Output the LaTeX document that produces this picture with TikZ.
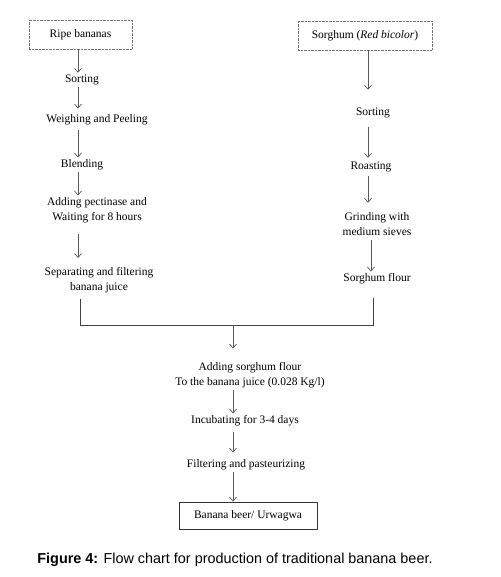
\documentclass[tikz,border=0pt]{standalone}
\usepackage{fontspec}
\setmainfont{Liberation Serif}
\newfontfamily\capfont{Liberation Sans}
\usetikzlibrary{arrows.meta}

\begin{document}
\begin{tikzpicture}[x=1pt,y=-1pt,>={Straight Barb[length=4pt,width=7pt]},
	stage/.style={align=center,inner sep=2pt,font=\fontsize{11.5}{15}\selectfont},
	srcbox/.style={stage,draw=black!55,densely dotted,minimum height=29pt,inner sep=0pt},
	flow/.style={->,draw=black!65,line width=0.7pt},
	mergeline/.style={draw=black!75,line width=0.9pt}]
	\useasboundingbox (0,0) rectangle (500,577);
	\coordinate (colL) at (78,0);
	\coordinate (colR) at (368,0);
	\coordinate (colM) at (233,0);
	% banana side
	\node [srcbox,minimum width=103pt] at (80.5,34.5) (RB) {Ripe bananas};
	\node [stage] at (82,80) (SortL) {Sorting};
	\node [stage] at (97,120) (Weigh) {Weighing and Peeling};
	\node [stage] at (82,165) (Blend) {Blending};
	\node [stage] at (97,210.5) (Pect) {Adding pectinase and\\Waiting for 8 hours};
	\node [stage] at (99,280) (Sep) {Separating and filtering\\banana juice};
	% sorghum side
	\node [srcbox,minimum width=134pt] at (365,35.5) (SG) {Sorghum (\textit{Red bicolor})};
	\node [stage] at (373,113) (SortR) {Sorting};
	\node [stage] at (371,167) (Roast) {Roasting};
	\node [stage] at (377,224.5) (Grind) {Grinding with\\medium sieves};
	\node [stage] at (377,279) (Flour) {Sorghum flour};
	% common part
	\node [stage] at (250,375.5) (AddS) {Adding sorghum flour\\To the banana juice (0.028 Kg/l)};
	\node [stage] at (245,421) (Incub) {Incubating for 3-4 days};
	\node [stage] at (246,465) (Filt) {Filtering and pasteurizing};
	\node [stage,draw=black!80,line width=0.8pt,minimum width=138pt,minimum height=27pt,inner sep=0pt] at (248,515.5) (Beer) {Banana beer/ Urwagwa};
	\node [font=\capfont\fontsize{14.4}{17}\selectfont] at (235,560) (Cap) {\textbf{Figure 4:} Flow chart for production of traditional banana beer.};
	\coordinate (jL) at (80,325);
	\coordinate (jR) at (373,325);
	\coordinate (jM) at (233,325);
	% arrows, banana
	\draw [flow] (RB.south -| colL) -- (SortL.north -| colL);
	\draw [flow,shorten >=4pt] (SortL.south -| colL) -- (Weigh.north -| colL);
	\draw [flow,shorten <=3pt] (Weigh.south -| colL) -- (Blend.north -| colL);
	\draw [flow] (Blend.south -| colL) -- (Pect.north -| colL);
	\draw [flow,shorten <=9pt,shorten >=7pt] (Pect.south -| colL) -- (Sep.north -| colL);
	% arrows, sorghum
	\draw [flow,shorten >=16pt] (SG.south -| colR) -- (SortR.north -| colR);
	\draw [flow,shorten <=7pt,shorten >=2pt] (SortR.south -| colR) -- (Roast.north -| colR);
	\draw [flow,shorten <=2pt,shorten >=8pt] (Roast.south -| colR) -- (Grind.north -| colR);
	\draw [flow,shorten <=2pt] (Grind.south -| 371,0) -- (Flour.north -| 371,0);
	% merging
	\draw [mergeline,shorten <=4pt,shorten >=12pt] (Sep.south -| jL) -- (jL) -- (jR) -- (Flour.south -| jR);
	\draw [flow,shorten >=12pt] (jM) -- (AddS.north -| jM);
	\draw [flow] (AddS.south -| colM) -- (Incub.north -| colM);
	\draw [flow,shorten <=4pt,shorten >=5pt] (Incub.south -| colM) -- (Filt.north -| colM);
	\draw [flow] (Filt.south -| colM) -- (Beer.north -| colM);
\end{tikzpicture}
\end{document}
